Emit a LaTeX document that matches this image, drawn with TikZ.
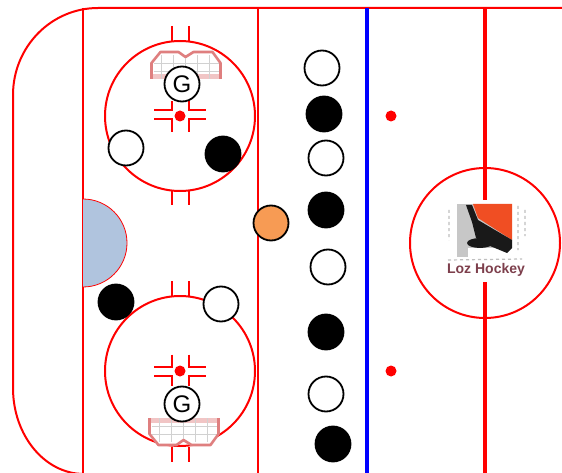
\documentclass[tikz,border=0pt]{standalone}
\usepackage{fontspec}
\setmainfont{Liberation Sans}
\usepackage{xcolor}
\usetikzlibrary{positioning}
\definecolor{rinkRed}{HTML}{FF0000}
\definecolor{rinkBlue}{HTML}{0000FF}
\definecolor{creaseBlue}{HTML}{B0C4DE}
\definecolor{puckOrange}{HTML}{F79B54}
\definecolor{logoOrange}{HTML}{F04E23}
\definecolor{logoText}{HTML}{7D3F4C}
\definecolor{netRed}{HTML}{DF7F7F}

\begin{document}
\begin{tikzpicture}[x=1pt,y=-1pt,
  rink/.style={draw=rinkRed,line width=2pt},
  thickline/.style={draw=rinkRed,line width=3.6pt},
  spot/.style={circle,fill=rinkRed,inner sep=0pt,minimum size=11pt},
  zone/.style={draw=rinkRed,line width=2pt,circle,minimum size=150pt,inner sep=0pt},
  player/.style={draw=black,circle,line width=1.8pt,inner sep=0pt,minimum size=35pt},
  white player/.style={player,fill=white},
  black player/.style={player,fill=black},
  goalie/.style={white player,font=\fontsize{24}{24}\selectfont},
  net/.pic={
    \fill[white] (-34,0) -- (-34,-16) -- (-25,-27) -- (-7,-27) -- (0,-22) -- (8,-27) -- (27,-27) -- (35,-16) -- (35,0) -- cycle;
    \fill[netRed!45] (-34,-5) rectangle (35,0);
    \foreach \gx in {-24,-12,0,12,24} \draw[black!18,line width=.8pt] (\gx,-24) -- (\gx,0);
    \foreach \gy in {-16,-8} \draw[black!18,line width=.8pt] (-32,\gy) -- (33,\gy);
    \draw[netRed,line width=2.6pt,line join=round] (-34,0) -- (-34,-16) -- (-25,-27) -- (-7,-27) -- (0,-22) -- (8,-27) -- (27,-27) -- (35,-16) -- (35,0);
  },
  hashes/.pic={
    \draw[rink] (-8.5,-14) -- (-8.5,-4.5) -- (-26,-4.5);
    \draw[rink] (8.5,-14) -- (8.5,-4.5) -- (26,-4.5);
    \draw[rink] (-8.5,17) -- (-8.5,4.5) -- (-26,4.5);
    \draw[rink] (8.5,17) -- (8.5,4.5) -- (26,4.5);
  }]
\useasboundingbox (0,0) rectangle (562,473);
\fill[white] (0,0) rectangle (562,473);
% boards and lines
\draw[rink] (562,8) -- (98,8) arc[start angle=90,end angle=180,x radius=85,y radius=-87] -- (13,388)
  arc[start angle=180,end angle=270,x radius=71,y radius=-86];
\draw[rink] (83,8) -- (83,473);
\draw[rink] (258,8) -- (258,473);
\draw[line width=3.6pt,rinkBlue] (367,8) -- (367,473);
\draw[thickline] (485,8) -- (485,473);
% crease
\fill[creaseBlue] (83,199) arc[start angle=90,end angle=-90,radius=44,y radius=-44] -- cycle;
\draw[draw=rinkRed,line width=.8pt] (83,199) arc[start angle=90,end angle=-90,radius=44,y radius=-44];
% faceoff circles
\node[zone] (top circle) at (180,116) {};
\node[zone] (bottom circle) at (180,371) {};
\node[zone] (center circle) at (485,243) {};
\draw[rink] (172,26) -- (172,41) (189,26) -- (189,41) (172,191) -- (172,205) (189,191) -- (189,205);
\draw[rink] (172,281) -- (172,296) (189,281) -- (189,296) (172,447) -- (172,462) (189,447) -- (189,462);
\pic at (180,115) {hashes};
\pic[yscale=-1] at (180,371.5) {hashes};
% spots
\node[spot] (top spot) at (180,116) {};
\node[spot] (bottom spot) at (180,371) {};
\node[spot] (top dot) at (391,116) {};
\node[spot] (bottom dot) at (391,371) {};
% nets
\pic at (185.5,79) {net};
\pic[yscale=-1] at (183.5,418) {net};
% logo
\fill[white] (445,200) rectangle (528,282);
\fill[black!22] (457,204) rectangle (512,257);
\fill[white] (468,248) rectangle (512,257);
\fill[logoOrange] (473,204) -- (512,204) -- (512,240) -- (478,218) -- cycle;
\fill[black!90] (466,205) -- (472,205) -- (478,220) -- (512,240) -- (512,248) -- (507,253) -- (490,246) -- (476,238) -- (472,222) -- cycle;
\fill[black!90] (480,243) ellipse[x radius=13,y radius=5];
\draw[black!25,line width=1.2pt,dash pattern=on 3pt off 3pt] (449,210) -- (449,240) (518,206) -- (518,250) (525,210) -- (525,236) (448,260) -- (522,259);
\node[font=\fontsize{14}{14}\selectfont\bfseries,text=logoText,inner sep=0pt] (logo) at (486,270) {Loz Hockey};
% players
\node[white player] (w1) at (322,68) {};
\node[black player] (b1) at (324,114) {};
\node[white player] (w2) at (326,158) {};
\node[black player] (b2) at (326,210) {};
\node[white player] (w3) at (328,267) {};
\node[black player] (b3) at (326,332) {};
\node[white player] (w4) at (326,394) {};
\node[black player] (b4) at (333,444) {};
\node[white player] (w5) at (126,148) {};
\node[black player] (b5) at (223,154) {};
\node[black player] (b6) at (116,302) {};
\node[white player] (w6) at (221,304) {};
\node[player,fill=puckOrange] (puck) at (271,223) {};
\node[goalie] (g1) at (182,84) {G};
\node[goalie] (g2) at (182,404) {G};
\end{tikzpicture}
\end{document}
